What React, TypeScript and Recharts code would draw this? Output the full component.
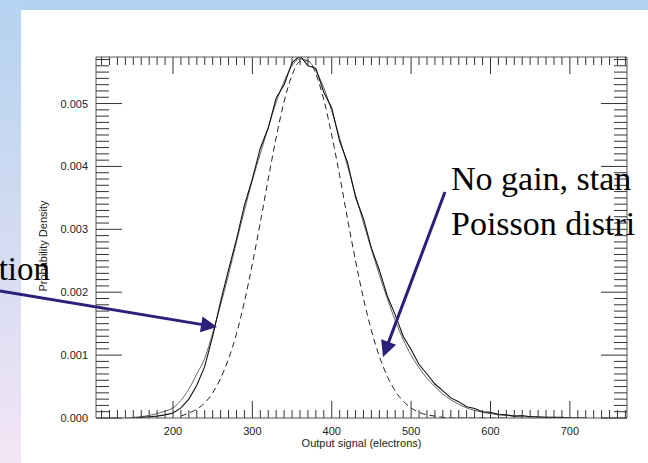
import React from 'react';
import { LineChart, Line, XAxis, YAxis } from 'recharts';

// output signal (electrons), one sample every 10 e-
const signal = [
  110, 120, 130, 140, 150, 160, 170, 180, 190, 200,
  210, 220, 230, 240, 250, 260, 270, 280, 290, 300,
  310, 320, 330, 340, 350, 360, 370, 380, 390, 400,
  410, 420, 430, 440, 450, 460, 470, 480, 490, 500,
  510, 520, 530, 540, 550, 560, 570, 580, 590, 600,
  610, 620, 630, 640, 650, 660, 670, 680, 690, 700,
  710, 720, 730, 740, 750, 760, 770,
];

// smooth model curve (solid, grey)
const modelFit = [
  null, null, null, 0, 0.00001, 0.00002, 0.00004, 0.00007, 0.00011, 0.00016,
  0.00028, 0.00046, 0.0007, 0.00095, 0.00135, 0.0018, 0.00228, 0.0028, 0.0033, 0.00378,
  0.0042, 0.00462, 0.00502, 0.00535, 0.0056, 0.00571, 0.00568, 0.00552, 0.00525, 0.00488,
  0.00445, 0.004, 0.00355, 0.0031, 0.00268, 0.00228, 0.0019, 0.00155, 0.00125, 0.001,
  0.0008, 0.00063, 0.0005, 0.00038, 0.00029, 0.00022, 0.00016, 0.00012, 0.00009, 0.00007,
  0.00005, 0.00004, 0.00003, 0.00002, 0.00002, 0.00001, 0.00001, 0.00001, 0, 0,
  0, 0, null, null, null, null, null,
];

// measured histogram (solid, black, noisy)
const measured = [
  null, null, null, null, 0, 0.00001, 0.00002, 0.00003, 0.00005, 0.00008,
  0.00016, 0.0003, 0.00052, 0.00082, 0.0013, 0.00185, 0.00236, 0.00284, 0.00338, 0.0038,
  0.00429, 0.00461, 0.00509, 0.0053, 0.00565, 0.00576, 0.0056, 0.00556, 0.00518, 0.00493,
  0.0044, 0.00406, 0.00351, 0.00317, 0.0027, 0.00235, 0.00194, 0.00164, 0.0013, 0.00109,
  0.00085, 0.0007, 0.00054, 0.00043, 0.00032, 0.00026, 0.00018, 0.00015, 0.0001, 0.00009,
  0.00006, 0.00005, 0.00003, 0.00004, 0.00002, 0.00002, 0.00001, 0.00001, 0.00001, 0,
  0, 0, null, null, null, null, null,
];

// no gain, standard Poisson distribution (dashed)
const poisson = [
  null, null, null, null, null, null, null, null, null, null,
  0.00003, 0.00008, 0.00014, 0.00024, 0.0004, 0.00063, 0.00094, 0.00134, 0.00185, 0.00245,
  0.00311, 0.0038, 0.00446, 0.00503, 0.00545, 0.00567, 0.00568, 0.00547, 0.00506, 0.0045,
  0.00385, 0.00316, 0.0025, 0.0019, 0.00139, 0.00098, 0.00066, 0.00043, 0.00027, 0.00016,
  0.00009, 0.00005, 0.00003, 0.00001, 0, 0, 0, 0, 0, 0,
  0, 0, null, null, null, null, null,
];

const xTicks = [200, 300, 400, 500, 600, 700];
const yTicks = [0, 0.001, 0.002, 0.003, 0.004, 0.005];
const xMinor = Array.from({ length: 67 }, (_, i) => 110 + i * 10);
const yMinor = Array.from({ length: 58 }, (_, i) => i / 10000);

const axisFont = '"Liberation Sans", Arial, Helvetica, sans-serif';
const serif = '"Liberation Serif", "Times New Roman", serif';
const ink = '#333';
const navy = '#2b2079';

const isMajorX = (v: number) => xTicks.includes(v);
const isMajorY = (v: number) => yTicks.some((t) => Math.abs(t - v) < 1e-9);

const BottomTick = ({ x, y, payload }: any) => {
  const major = isMajorX(payload.value);
  return (
    <g>
      <line x1={x} x2={x} y1={y} y2={y - (major ? 17 : 8)} stroke={ink} />
      {major && (
        <text x={x} y={y + 17} textAnchor="middle" fontSize={11} fontFamily={axisFont} fill="#222">
          {payload.value}
        </text>
      )}
    </g>
  );
};

const TopTick = ({ x, y, payload }: any) => {
  const major = isMajorX(payload.value);
  return <line x1={x} x2={x} y1={y} y2={y + (major ? 17 : 8)} stroke={ink} />;
};

const LeftTick = ({ x, y, payload }: any) => {
  const major = isMajorY(payload.value);
  return (
    <g>
      <line x1={x} x2={x + (major ? 26 : 13)} y1={y} y2={y} stroke={ink} />
      {major && (
        <text x={x - 8} y={y + 4} textAnchor="end" fontSize={11} fontFamily={axisFont} fill="#222">
          {payload.value.toFixed(3)}
        </text>
      )}
    </g>
  );
};

const RightTick = ({ x, y, payload }: any) => {
  const major = isMajorY(payload.value);
  return <line x1={x} x2={x - (major ? 26 : 13)} y1={y} y2={y} stroke={ink} />;
};

const Arrow = ({ from, to }: { from: [number, number]; to: [number, number] }) => {
  const dx = to[0] - from[0];
  const dy = to[1] - from[1];
  const len = Math.hypot(dx, dy);
  const ux = dx / len;
  const uy = dy / len;
  const bx = to[0] - ux * 16;
  const by = to[1] - uy * 16;
  const pts = `${to[0]},${to[1]} ${bx - uy * 8},${by + ux * 8} ${bx + uy * 8},${by - ux * 8}`;
  return (
    <g>
      <line x1={from[0]} y1={from[1]} x2={to[0] - ux * 10} y2={to[1] - uy * 10} stroke={navy} strokeWidth={3} />
      <polygon points={pts} fill={navy} />
    </g>
  );
};

export default function App() {
  const rows = signal.map((s, i) => ({
    signal: s,
    fit: modelFit[i],
    measured: measured[i],
    poisson: poisson[i],
  }));

  return (
    <div style={{ position: 'fixed', left: 0, top: 0, width: 648, height: 463, background: '#fff', overflow: 'hidden' }}>
      <div style={{ position: 'absolute', left: 0, top: 0, width: 648, height: 10, background: '#b4d3f1' }} />
      <div
        style={{
          position: 'absolute',
          left: 0,
          top: 0,
          width: 21,
          height: 463,
          background: 'linear-gradient(#b4d3f1, #d6dcf2 55%, #f3e5f5)',
        }}
      />
      <div style={{ position: 'absolute', left: 0, top: 0 }}>
        <LineChart width={648} height={463} data={rows} margin={{ top: 0, right: 0, bottom: 0, left: 0 }}>
          <XAxis
            xAxisId="bottom"
            dataKey="signal"
            type="number"
            domain={[103, 772]}
            allowDataOverflow
            ticks={xMinor}
            interval={0}
            height={45}
            tickSize={0}
            tickMargin={0}
            tickLine={false}
            axisLine={{ stroke: '#555' }}
            tick={BottomTick}
            label={{ value: 'Output signal (electrons)', position: 'insideBottom', offset: 16, fontSize: 11, fontFamily: axisFont, fill: '#222' }}
          />
          <XAxis
            xAxisId="top"
            orientation="top"
            dataKey="signal"
            type="number"
            domain={[103, 772]}
            allowDataOverflow
            ticks={xMinor}
            interval={0}
            height={57}
            tickSize={0}
            tickMargin={0}
            tickLine={false}
            axisLine={{ stroke: '#555' }}
            tick={TopTick}
          />
          <YAxis
            yAxisId="left"
            type="number"
            domain={[0, 0.00574]}
            allowDataOverflow
            ticks={yMinor}
            interval={0}
            width={96}
            tickSize={0}
            tickMargin={0}
            tickLine={false}
            axisLine={{ stroke: '#555' }}
            tick={LeftTick}
          />
          <YAxis
            yAxisId="right"
            orientation="right"
            type="number"
            domain={[0, 0.00574]}
            allowDataOverflow
            ticks={yMinor}
            interval={0}
            width={21}
            tickSize={0}
            tickMargin={0}
            tickLine={false}
            axisLine={{ stroke: '#555' }}
            tick={RightTick}
          />
          <Line xAxisId="bottom" yAxisId="left" dataKey="poisson" type="monotone" stroke="#222" strokeWidth={1} strokeDasharray="6 4" dot={false} isAnimationActive={false} />
          <Line xAxisId="bottom" yAxisId="left" dataKey="fit" type="monotone" stroke="#666" strokeWidth={1} dot={false} isAnimationActive={false} />
          <Line xAxisId="bottom" yAxisId="left" dataKey="measured" type="linear" stroke="#111" strokeWidth={1.1} dot={false} isAnimationActive={false} />
        </LineChart>
      </div>
      <svg width={648} height={463} style={{ position: 'absolute', left: 0, top: 0, pointerEvents: 'none' }}>
        <text transform="translate(47,246) rotate(-90)" textAnchor="middle" fontSize={11} fontFamily={axisFont} fill="#222">
          Probability Density
        </text>
        <text x={50} y={280} textAnchor="end" fontSize={33} fontFamily={serif} fill="#000">
          tion
        </text>
        <text x={451} y={190} fontSize={34} fontFamily={serif} fill="#000">
          No gain, stan
        </text>
        <text x={451} y={235} fontSize={34} fontFamily={serif} fill="#000">
          Poisson distri
        </text>
        <Arrow from={[0, 291]} to={[217, 327]} />
        <Arrow from={[445, 192]} to={[383, 357]} />
      </svg>
    </div>
  );
}
